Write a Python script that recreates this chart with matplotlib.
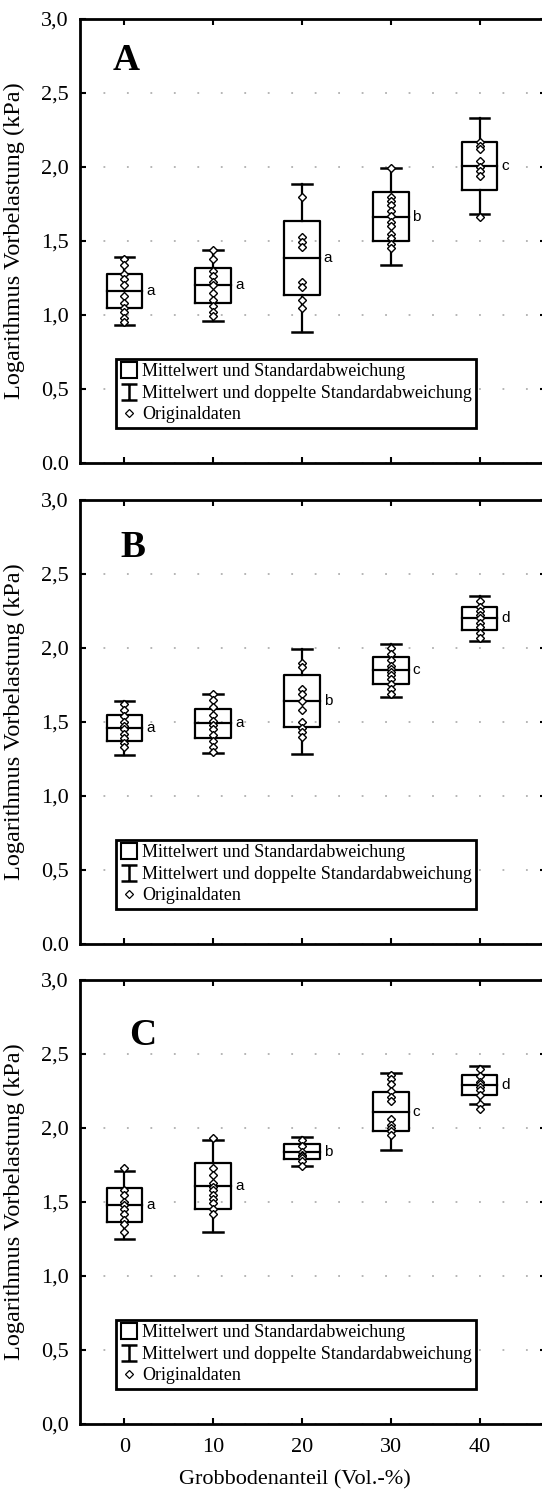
import numpy as np
import matplotlib
matplotlib.use('Agg')
import matplotlib.pyplot as plt
from matplotlib.lines import Line2D
from matplotlib.path import Path

plt.rcParams['font.family'] = ['Liberation Serif', 'DejaVu Serif']

# Grobbodenanteil (Vol.-%)
gruppen = [0, 10, 20, 30, 40]

# Panel A
mw_A = [1.16, 1.20, 1.385, 1.665, 2.005]
sd_A = [0.115, 0.12, 0.25, 0.163, 0.163]
buchst_A = ['a', 'a', 'a', 'b', 'c']
daten_A = [
    [1.38, 1.34, 1.28, 1.24, 1.20, 1.13, 1.08, 1.05, 1.02, 0.98, 0.95],
    [1.44, 1.38, 1.30, 1.26, 1.22, 1.20, 1.15, 1.10, 1.06, 1.02, 0.99],
    [1.80, 1.53, 1.49, 1.46, 1.22, 1.19, 1.10, 1.05],
    [1.99, 1.80, 1.77, 1.74, 1.70, 1.67, 1.63, 1.60, 1.55, 1.52, 1.48, 1.45],
    [2.17, 2.14, 2.12, 2.04, 2.00, 1.97, 1.94, 1.66],
]

# Panel B
mw_B = [1.46, 1.49, 1.64, 1.85, 2.20]
sd_B = [0.09, 0.10, 0.177, 0.09, 0.075]
buchst_B = ['a', 'a', 'b', 'c', 'd']
daten_B = [
    [1.62, 1.58, 1.54, 1.50, 1.47, 1.45, 1.42, 1.39, 1.36, 1.33],
    [1.69, 1.65, 1.60, 1.55, 1.51, 1.48, 1.45, 1.41, 1.37, 1.33, 1.30],
    [1.90, 1.87, 1.72, 1.69, 1.64, 1.58, 1.50, 1.46, 1.43, 1.40],
    [2.00, 1.96, 1.92, 1.88, 1.86, 1.84, 1.82, 1.79, 1.76, 1.72, 1.69],
    [2.32, 2.28, 2.25, 2.22, 2.20, 2.17, 2.14, 2.10, 2.07],
]

# Panel C
mw_C = [1.48, 1.61, 1.84, 2.11, 2.29]
sd_C = [0.115, 0.155, 0.05, 0.13, 0.065]
buchst_C = ['a', 'a', 'b', 'c', 'd']
daten_C = [
    [1.73, 1.58, 1.55, 1.50, 1.48, 1.45, 1.42, 1.38, 1.35, 1.30],
    [1.93, 1.73, 1.68, 1.63, 1.60, 1.58, 1.55, 1.52, 1.49, 1.45, 1.42],
    [1.92, 1.88, 1.84, 1.82, 1.81, 1.80, 1.78, 1.74],
    [2.36, 2.33, 2.30, 2.25, 2.21, 2.18, 2.06, 2.02, 2.00, 1.98, 1.95],
    [2.40, 2.35, 2.31, 2.30, 2.28, 2.26, 2.22, 2.16, 2.13],
]

ytick_werte = [0, 0.5, 1.0, 1.5, 2.0, 2.5, 3.0]
ytick_AB = ['0.0', '0,5', '1,0', '1,5', '2,0', '2,5', '3,0']
ytick_C = ['0,0', '0,5', '1,0', '1,5', '2,0', '2,5', '3,0']

panels = [
    ('A', mw_A, sd_A, buchst_A, daten_A, ytick_AB, 0.6899, (0.069, 0.885)),
    ('B', mw_B, sd_B, buchst_B, daten_B, ytick_AB, 0.3677, (0.086, 0.872)),
    ('C', mw_C, sd_C, buchst_C, daten_C, ytick_C, 0.0462, (0.105, 0.854)),
]

# I-Symbol fuer die Legende
i_path = Path([(-1, 1), (1, 1), (0, 1), (0, -1), (-1, -1), (1, -1)],
              [Path.MOVETO, Path.LINETO, Path.MOVETO, Path.LINETO, Path.MOVETO, Path.LINETO])

fig = plt.figure(figsize=(5.42, 14.93), dpi=100)

bw = 2.0    # halbe Boxbreite
cw = 1.1    # halbe Kappenbreite

for name, mw, sd, buchst, daten, ylabs, unten, lpos in panels:
    ax = fig.add_axes([0.1476, unten, 0.86, 0.2974])
    for i, g in enumerate(gruppen):
        m = mw[i]
        s = sd[i]
        # Box: Mittelwert +- SD
        ax.plot([g - bw, g + bw, g + bw, g - bw, g - bw],
                [m - s, m - s, m + s, m + s, m - s], color='k', lw=1.6, zorder=2)
        ax.plot([g - bw, g + bw], [m, m], color='k', lw=1.6, zorder=2)
        # Whisker: Mittelwert +- 2 SD
        ax.plot([g, g], [m + s, m + 2*s], color='k', lw=1.6, zorder=2)
        ax.plot([g, g], [m - s, m - 2*s], color='k', lw=1.6, zorder=2)
        ax.plot([g - cw, g + cw], [m + 2*s, m + 2*s], color='k', lw=1.8, zorder=2)
        ax.plot([g - cw, g + cw], [m - 2*s, m - 2*s], color='k', lw=1.8, zorder=2)
        # Originaldaten
        ax.plot([g]*len(daten[i]), daten[i], 'D', ms=4.4, mfc='white', mec='k', mew=1.0, zorder=3)
        # Buchstaben
        ax.text(g + bw + 0.45, m, buchst[i], fontsize=11, family=['Liberation Sans', 'DejaVu Sans'],
                va='center', ha='left')

    ax.set_xlim(-5, 47.5)
    ax.set_ylim(0, 3.0)
    ax.set_xticks(gruppen)
    ax.set_yticks(ytick_werte)
    ax.set_yticklabels(ylabs)
    if name == 'C':
        ax.set_xticklabels([str(g) for g in gruppen])
        ax.set_xlabel('Grobbodenanteil (Vol.-%)', fontsize=16)
        ax.xaxis.set_label_coords(0.461, -0.105)
    else:
        ax.set_xticklabels([])
    ax.tick_params(direction='in', length=4, width=1.5, labelsize=16, top=True, right=True, pad=8)
    ax.tick_params(axis='x', pad=10)
    for sp in ax.spines.values():
        sp.set_linewidth(2.0)
    ax.grid(axis='y', color='#b0b0b0', linestyle=(0, (1, 12)), linewidth=1.3)
    ax.set_axisbelow(True)
    ax.set_ylabel('Logarithmus Vorbelastung (kPa)', fontsize=17.5)
    ax.yaxis.set_label_coords(-0.118, 0.5)

    ax.text(lpos[0], lpos[1], name, transform=ax.transAxes, fontsize=27, fontweight='bold',
            va='baseline', ha='left')

    handles = [
        Line2D([], [], marker='s', ls='none', ms=11, mfc='white', mec='k', mew=1.5),
        Line2D([], [], marker=i_path, ls='none', ms=11, mec='k', mew=1.8),
        Line2D([], [], marker='D', ls='none', ms=4, mfc='white', mec='k', mew=0.9),
    ]
    labels = ['Mittelwert und Standardabweichung',
              'Mittelwert und doppelte Standardabweichung',
              'Originaldaten']
    leg = ax.legend(handles, labels, loc='lower left', bbox_to_anchor=(0.077, 0.079),
                    borderaxespad=0, fontsize=13, handlelength=0.9, handletextpad=0.3,
                    labelspacing=0.25, borderpad=0.25, fancybox=False, framealpha=1,
                    edgecolor='k')
    leg.get_frame().set_linewidth(2.0)

fig.savefig('out.png', dpi=100)
